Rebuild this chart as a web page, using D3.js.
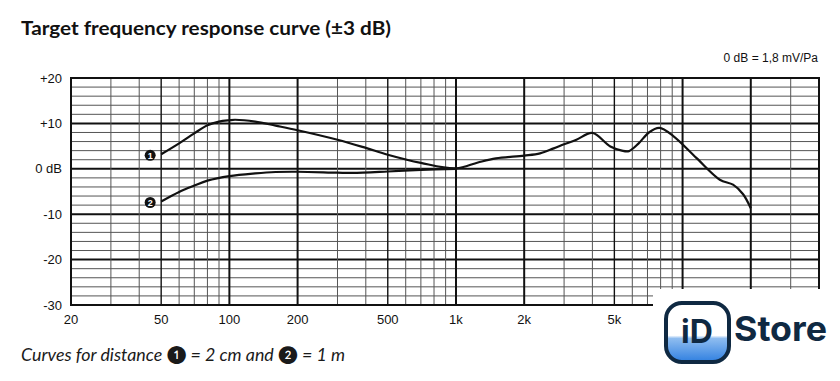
<!DOCTYPE html>
<html>
<head>
<meta charset="utf-8">
<script src="https://cdn.jsdelivr.net/npm/d3@7"></script>
<style>
  body { margin: 0; background: #fff; }
  svg { display: block; }
</style>
</head>
<body>
<svg id="chart" width="840" height="381"></svg>
<script>
// curve 1 : 2 cm distance
const freq1 = [50, 60, 70, 80, 90, 100, 106, 130, 160, 200, 300, 400, 500, 700, 1000, 1250, 1500, 2000, 2350, 2700, 3000, 3400, 4000, 4800, 5400, 5800, 6400, 7100, 7900, 9100, 11500, 14600, 16700, 18500, 20000];
const db1   = [3.2, 5.6, 7.8, 9.6, 10.4, 10.7, 10.8, 10.4, 9.5, 8.5, 6.4, 4.6, 3.1, 1.3, 0.1, 1.4, 2.3, 2.9, 3.4, 4.5, 5.4, 6.4, 7.9, 4.9, 4.0, 3.9, 5.6, 8.0, 9.0, 7.2, 2.4, -2.4, -3.5, -5.6, -8.7];
// curve 2 : 1 m distance
const freq2 = [50, 60, 70, 80, 100, 130, 160, 200, 300, 350, 500, 700, 1000];
const db2   = [-7.2, -5.1, -3.7, -2.6, -1.6, -1.0, -0.7, -0.65, -0.85, -0.9, -0.6, -0.25, 0];

const yTicks = [20, 10, 0, -10, -20, -30];
const yTickLabels = ["+20", "+10", "0 dB", "-10", "-20", "-30"];
// 10k and 20k labels sit under the watermark in the source
const xTicks = [20, 50, 100, 200, 500, 1000, 2000, 5000];
const xTickLabels = ["20", "50", "100", "200", "500", "1k", "2k", "5k"];

const svg = d3.select("#chart");
const pLeft = 71, pRight = 819, pTop = 78, pBottom = 305;

let x = d3.scaleLog().domain([20, 40000]).range([pLeft, pRight]);
let y = d3.scaleLinear().domain([-30, 20]).range([pBottom, pTop]);

// title
svg.append("text")
    .attr("x", 21).attr("y", 35)
    .attr("font-family", "Lato, 'Open Sans', sans-serif")
    .attr("font-weight", 700)
    .attr("font-size", 18.5)
    .attr("textLength", 370)
    .attr("lengthAdjust", "spacingAndGlyphs")
    .attr("fill", "#111")
    .text("Target frequency response curve (±3 dB)");

svg.append("text")
    .attr("x", 818).attr("y", 62)
    .attr("text-anchor", "end")
    .attr("font-family", "'Liberation Sans', Arial, sans-serif")
    .attr("font-size", 12)
    .attr("fill", "#111")
    .text("0 dB = 1,8 mV/Pa");

let grid = svg.append("g");

// horizontal grid every 2 dB
let hLines = d3.range(-28, 20, 2);
grid.selectAll("line.h")
    .data(hLines)
    .enter().append("line")
    .attr("class", "h")
    .attr("x1", pLeft).attr("x2", pRight)
    .attr("y1", d => y(d)).attr("y2", d => y(d))
    .attr("stroke", d => d % 10 == 0 ? "#111" : "#555")
    .attr("stroke-width", d => d % 10 == 0 ? 2 : 1);

// vertical grid: 1..9 per decade
let vLines = [];
[10, 100, 1000, 10000].forEach(dec => {
    for (let k = 1; k <= 9; k++) {
        let f = dec * k;
        if (f > 20 && f < 40000) vLines.push(f);
    }
});
function vWidth(f) {
    let m = f / Math.pow(10, Math.floor(Math.log10(f) + 1e-9));
    if (Math.abs(m - 1) < 1e-6 || Math.abs(m - 2) < 1e-6) return 2;
    if (Math.abs(m - 5) < 1e-6) return 1.4;
    return 1;
}
grid.selectAll("line.v")
    .data(vLines)
    .enter().append("line")
    .attr("class", "v")
    .attr("x1", d => x(d)).attr("x2", d => x(d))
    .attr("y1", pTop).attr("y2", pBottom)
    .attr("stroke", d => vWidth(d) > 1 ? "#111" : "#555")
    .attr("stroke-width", d => vWidth(d));

// frame
svg.append("rect")
    .attr("x", pLeft).attr("y", pTop)
    .attr("width", pRight - pLeft).attr("height", pBottom - pTop)
    .attr("fill", "none")
    .attr("stroke", "#111")
    .attr("stroke-width", 2);

// y labels
svg.selectAll("text.ylab")
    .data(yTicks)
    .enter().append("text")
    .attr("class", "ylab")
    .attr("x", 62)
    .attr("y", d => y(d) + 4.5)
    .attr("text-anchor", "end")
    .attr("font-family", "'Liberation Sans', Arial, sans-serif")
    .attr("font-size", 13)
    .attr("fill", "#111")
    .text((d, i) => yTickLabels[i]);

// x labels
svg.selectAll("text.xlab")
    .data(xTicks)
    .enter().append("text")
    .attr("class", "xlab")
    .attr("x", d => x(d))
    .attr("y", 324)
    .attr("text-anchor", "middle")
    .attr("font-family", "'Liberation Sans', Arial, sans-serif")
    .attr("font-size", 13)
    .attr("fill", "#111")
    .text((d, i) => xTickLabels[i]);

// curves
let line = d3.line()
    .x(d => x(d[0]))
    .y(d => y(d[1]))
    .curve(d3.curveCatmullRom.alpha(0.5));

let curves = [
    { id: 1, pts: d3.zip(freq1, db1) },
    { id: 2, pts: d3.zip(freq2, db2) }
];

svg.selectAll("path.curve")
    .data(curves)
    .enter().append("path")
    .attr("class", "curve")
    .attr("d", d => line(d.pts))
    .attr("fill", "none")
    .attr("stroke", "#111")
    .attr("stroke-width", 2.2)
    .attr("stroke-linejoin", "round");

// numbered markers at curve starts
let markers = svg.selectAll("g.marker")
    .data(curves)
    .enter().append("g")
    .attr("class", "marker")
    .attr("transform", d => "translate(" + (x(d.pts[0][0]) - 11) + "," + (y(d.pts[0][1]) + 1) + ")");
markers.append("circle").attr("r", 5.5).attr("fill", "#111");
markers.append("text")
    .attr("y", 3.5)
    .attr("text-anchor", "middle")
    .attr("font-family", "'Liberation Sans', Arial, sans-serif")
    .attr("font-weight", 700)
    .attr("font-size", 9)
    .attr("fill", "#fff")
    .text(d => d.id);

// footer
svg.append("text")
    .attr("x", 21).attr("y", 361)
    .attr("font-family", "Lato, 'Open Sans', sans-serif")
    .attr("font-style", "italic")
    .attr("font-weight", 400)
    .attr("font-size", 17.5)
    .attr("textLength", 324)
    .attr("lengthAdjust", "spacingAndGlyphs")
    .attr("fill", "#1a1a1a")
    .text("Curves for distance \u2776 = 2 cm and \u2777 = 1 m");

// watermark logo
let logo = svg.append("g");
logo.append("rect")
    .attr("x", 653).attr("y", 289)
    .attr("width", 187).attr("height", 92)
    .attr("fill", "#fff");
let defs = svg.append("defs");
let grad = defs.append("linearGradient")
    .attr("id", "lg").attr("x1", 0).attr("y1", 0).attr("x2", 0).attr("y2", 1);
grad.append("stop").attr("offset", "0.55").attr("stop-color", "#fff");
grad.append("stop").attr("offset", "0.6").attr("stop-color", "#8fbdf0");
grad.append("stop").attr("offset", "1").attr("stop-color", "#2f7fe0");
logo.append("rect")
    .attr("x", 666).attr("y", 303)
    .attr("width", 63).attr("height", 59)
    .attr("rx", 16)
    .attr("fill", "url(#lg)")
    .attr("stroke", "#0f2942")
    .attr("stroke-width", 4);
logo.append("text")
    .attr("x", 697).attr("y", 343)
    .attr("text-anchor", "middle")
    .attr("font-family", "Inter, 'Open Sans', sans-serif")
    .attr("font-weight", 700)
    .attr("font-size", 32)
    .attr("fill", "#0f2942")
    .text("iD");
logo.append("text")
    .attr("x", 734).attr("y", 341)
    .attr("font-family", "Inter, 'Open Sans', sans-serif")
    .attr("font-weight", 700)
    .attr("font-size", 34)
    .attr("textLength", 93)
    .attr("lengthAdjust", "spacingAndGlyphs")
    .attr("fill", "#0f2942")
    .text("Store");
</script>
</body>
</html>
